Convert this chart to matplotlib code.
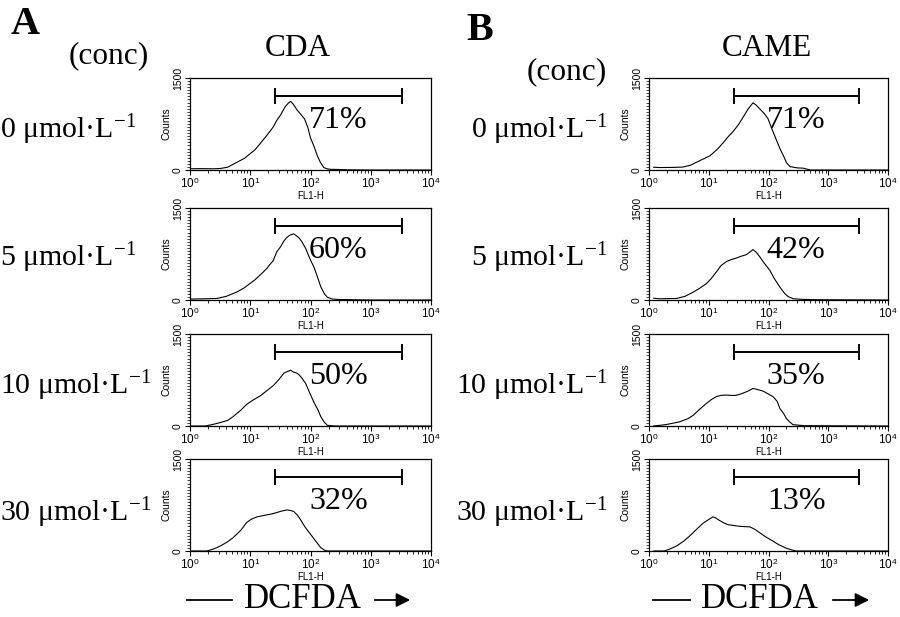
import matplotlib
matplotlib.use("Agg")
import matplotlib.pyplot as plt
from matplotlib.ticker import FixedLocator, MultipleLocator, LogLocator, NullFormatter
from matplotlib.lines import Line2D

plt.rcParams['font.family'] = ['Liberation Sans', 'DejaVu Sans']
plt.rcParams['mathtext.fontset'] = 'custom'
plt.rcParams['mathtext.rm'] = 'Liberation Serif'
plt.rcParams['mathtext.it'] = 'Liberation Serif:italic'
plt.rcParams['mathtext.bf'] = 'Liberation Serif:bold'
plt.rcParams['mathtext.sf'] = 'Liberation Sans'

# ---------------- data ----------------
panels = ["CDA", "CAME"]
concentrations = ["0", "5", "10", "30"]
cda_pct = ["71%", "60%", "50%", "32%"]
came_pct = ["71%", "42%", "35%", "13%"]
gate_range = [26, 3300]
gate_level = 1210
xtick_vals = [1, 10, 100, 1000, 10000]
xtick_labels = [r'$\mathsf{10}^{\mathsf{0}}$', r'$\mathsf{10}^{\mathsf{1}}$', r'$\mathsf{10}^{\mathsf{2}}$',
                r'$\mathsf{10}^{\mathsf{3}}$', r'$\mathsf{10}^{\mathsf{4}}$']
ytick_vals = [0, 1500]

cda0_x = [1, 1.5, 2.5, 3.2, 4.2, 6, 8, 10, 12, 14.8, 18, 21.4, 24, 27.5, 32, 38, 43, 46.8, 52, 60, 70, 79.4, 90, 100, 115, 129, 145, 166, 190, 214, 300, 400, 1000, 10000]
cda0_y = [20, 22, 20, 25, 45, 125, 190, 267, 330, 437, 540, 636, 700, 807, 900, 1034, 1090, 1119, 1070, 977, 900, 835, 700, 523, 380, 239, 130, 40, 18, 11, 8, 3, 0, 0]

cda5_x = [1, 1.5, 2.8, 4, 6, 8, 10, 12, 14.8, 17, 19, 21.4, 24, 27.5, 32, 36, 40.7, 46, 52.5, 58, 64.6, 72, 83.2, 95, 114.8, 130, 148, 170, 190.5, 230, 300, 1000, 10000]
cda5_y = [15, 18, 25, 60, 130, 200, 272, 330, 414, 470, 520, 585, 640, 784, 870, 960, 1022, 1060, 1079, 1050, 1011, 950, 840, 700, 528, 380, 216, 100, 45, 15, 8, 0, 0]

cda10_x = [1, 1.8, 2.5, 3.2, 4.2, 5.2, 7, 8.7, 11, 14.8, 18, 24.5, 30, 36.3, 42, 46.8, 52, 60, 64.6, 72, 83.2, 95, 114.8, 135, 148, 170, 190.5, 250, 1000, 10000]
cda10_y = [0, 0, 30, 57, 90, 153, 260, 352, 420, 494, 560, 665, 760, 863, 890, 909, 880, 860, 835, 780, 693, 560, 380, 250, 153, 60, 11, 0, 0, 0]

cda30_x = [1, 1.9, 2.5, 3.2, 4.2, 5.2, 7, 8.7, 10.5, 12.9, 16, 19, 23, 27.5, 33, 40.7, 47, 52.5, 60, 67.6, 80, 100, 120, 148, 170, 190.5, 300, 1000, 10000]
cda30_y = [0, 0, 35, 82, 150, 218, 340, 463, 520, 556, 575, 590, 605, 627, 650, 670, 660, 645, 590, 518, 400, 273, 170, 55, 15, 0, 0, 0, 0]

came0_x = [1.2, 1.5, 2.5, 3.7, 5, 7.1, 10.5, 14, 17.4, 21, 25.7, 32, 38, 46, 55, 62, 70.8, 85, 97.7, 115, 135, 155, 178, 200, 229, 300, 380, 500, 10000]
came0_y = [45, 40, 42, 48, 80, 153, 232, 340, 443, 540, 630, 750, 868, 1000, 1095, 1060, 1000, 920, 840, 660, 494, 350, 232, 120, 55, 35, 30, 0, 0]

came5_x = [1.2, 1.5, 2.9, 4, 5.5, 7, 9.1, 11, 13.5, 16, 20, 24, 28.8, 34, 42.7, 50, 55, 62, 70.8, 85, 104.7, 125, 155, 185, 214, 260, 380, 600, 10000]
came5_y = [30, 20, 25, 60, 128, 190, 265, 350, 460, 560, 630, 660, 683, 710, 740, 790, 822, 780, 710, 600, 487, 350, 211, 110, 55, 20, 10, 5, 0]

came10_x = [1.2, 1.9, 3.2, 4.5, 5.5, 7, 9.1, 11, 13.5, 16, 20, 24, 28.8, 35, 42.7, 50, 55, 62, 81.3, 100, 120, 140, 155, 180, 200, 230, 257, 400, 10000]
came10_y = [0, 22, 66, 120, 175, 270, 367, 430, 480, 500, 504, 498, 500, 525, 558, 590, 613, 600, 569, 520, 476, 400, 285, 200, 120, 60, 22, 5, 0]

came30_x = [1.2, 1.8, 2.2, 2.9, 3.8, 4.8, 6.2, 7.9, 9.5, 11.7, 13, 15, 17.4, 21, 28.8, 36, 49, 60, 70.8, 90, 117.5, 150, 200, 250, 288, 400, 10000]
came30_y = [0, 0, 30, 82, 160, 245, 350, 447, 500, 556, 540, 500, 463, 430, 409, 400, 393, 350, 300, 230, 164, 100, 44, 15, 0, 0, 0]

cda_curves = [(cda0_x, cda0_y), (cda5_x, cda5_y), (cda10_x, cda10_y), (cda30_x, cda30_y)]
came_curves = [(came0_x, came0_y), (came5_x, came5_y), (came10_x, came10_y), (came30_x, came30_y)]

# ---------------- layout ----------------
W, H = 900, 617
fig = plt.figure(figsize=(9, 6.17), dpi=100)

col_left = [190, 649]
col_width = [241, 239]
row_tops = [78, 208, 334, 459]
row_h = 92

serif = ['Liberation Serif', 'DejaVu Serif']

def fx(px):
    return px / W

def fy(py):
    return 1 - py / H

for c, (curves, pcts) in enumerate([(cda_curves, cda_pct), (came_curves, came_pct)]):
    for r in range(4):
        left = fx(col_left[c])
        bottom = fy(row_tops[r] + row_h)
        ax = fig.add_axes([left, bottom, col_width[c] / W, row_h / H])
        xs, ys = curves[r]
        ax.plot(xs, ys, color='black', lw=0.8)
        ax.set_xscale('log')
        ax.set_xlim(1, 10000)
        ax.set_ylim(0, 1500)
        # gate
        g0, g1 = gate_range
        ax.plot([g0, g1], [gate_level, gate_level], color='black', lw=1.4)
        ax.plot([g0, g0], [gate_level - 110, gate_level + 110], color='black', lw=1.4)
        ax.plot([g1, g1], [gate_level - 110, gate_level + 110], color='black', lw=1.4)
        ax.text(290, 810, pcts[r], fontsize=23, family=serif, ha='center', va='center')
        # ticks
        ax.xaxis.set_major_locator(FixedLocator(xtick_vals))
        ax.set_xticklabels(xtick_labels, fontsize=8.5)
        ax.xaxis.set_minor_locator(LogLocator(base=10, subs=range(2, 10), numticks=20))
        ax.xaxis.set_minor_formatter(NullFormatter())
        ax.tick_params(axis='x', which='major', direction='out', length=3.5, width=0.8, pad=1)
        ax.tick_params(axis='x', which='minor', direction='out', length=2.2, width=0.6)
        ax.yaxis.set_major_locator(FixedLocator(ytick_vals))
        ax.set_yticklabels([str(v) for v in ytick_vals], fontsize=7.5, rotation=90, va='center')
        ax.yaxis.set_minor_locator(MultipleLocator(50))
        ax.tick_params(axis='y', which='major', direction='out', length=3.5, width=0.8, pad=1.5)
        ax.tick_params(axis='y', which='minor', direction='out', length=2.0, width=0.5)
        ax.set_ylabel('Counts', fontsize=7.5, labelpad=1)
        ax.set_xlabel('FL1-H', fontsize=7, labelpad=0)
        for s in ax.spines.values():
            s.set_linewidth(0.9)

# row labels
row_label_y = [130, 258, 386, 513]
for r in range(4):
    lab = concentrations[r] + " μmol·L$^{-1}$"
    fig.text(fx(0), fy(row_label_y[r]), lab, fontsize=21.5, family=serif, ha='left', va='center')
    fig.text(fx(607), fy(row_label_y[r]), lab, fontsize=21.5, family=serif, ha='right', va='center')

# headers
fig.text(fx(11), fy(25), "A", fontsize=29, family=serif, fontweight='bold', ha='left', va='center')
fig.text(fx(466), fy(31), "B", fontsize=29, family=serif, fontweight='bold', ha='left', va='center')
fig.text(fx(109), fy(56), "(conc)", fontsize=22.5, family=serif, ha='center', va='center')
fig.text(fx(567), fy(72), "(conc)", fontsize=22.5, family=serif, ha='center', va='center')
fig.text(fx(298), fy(48), panels[0], fontsize=22.5, family=serif, ha='center', va='center')
fig.text(fx(767), fy(48), panels[1], fontsize=22.5, family=serif, ha='center', va='center')

# DCFDA axis captions
for (l0, l1, tc, a0, a1) in [(187, 232, 303, 372, 413), (653, 690, 760, 830, 872)]:
    fig.add_artist(Line2D([fx(l0), fx(l1)], [fy(600), fy(600)], color='black', lw=1.3))
    fig.text(fx(tc), fy(599), "DCFDA", fontsize=25, family=serif, ha='center', va='center')
    fig.add_artist(matplotlib.patches.FancyArrowPatch((fx(a0), fy(600)), (fx(a1), fy(600)),
                                                       transform=fig.transFigure,
                                                       arrowstyle='-|>,head_length=0.6,head_width=0.3',
                                                       mutation_scale=14, color='black', lw=1.3))

fig.savefig("out.png", dpi=100)
